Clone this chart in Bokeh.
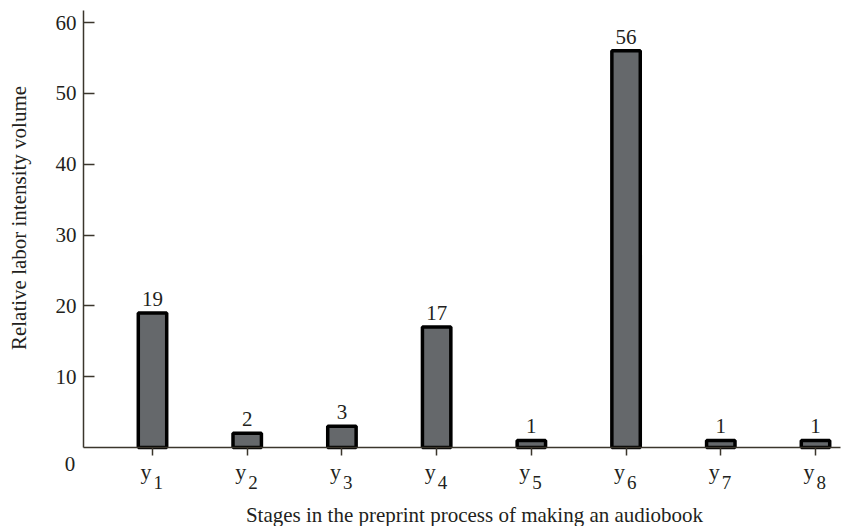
import math
from bokeh.plotting import figure
from bokeh.models import Range1d, FixedTicker, ColumnDataSource, LabelSet, Label
from bokeh.embed import file_html
from bokeh.resources import INLINE

# ---- data ----
stages = [1, 2, 3, 4, 5, 6, 7, 8]
stage_letters = ["y", "y", "y", "y", "y", "y", "y", "y"]
stage_subscripts = ["1", "2", "3", "4", "5", "6", "7", "8"]
values = [19, 2, 3, 17, 1, 56, 1, 1]
y_ticks = [10, 20, 30, 40, 50, 60]
zero_label = "0"
x_title = "Stages in the preprint process of making an audiobook"
y_title = "Relative labor intensity volume"

FONT = "Liberation Serif"
TXT = "#231f20"
AXC = "#3b362c"
W, H = 842, 526

# ---- layout: the frame covers the whole canvas, axes sit at fixed locations ----
sx = (815 - 152) / 7.0          # px per stage
sy = (447 - 22) / 60.0          # px per unit
xr0 = 1 - 152 / sx
xr1 = xr0 + W / sx
yr1 = 447 / sy
yr0 = yr1 - H / sy
x_axis_bounds = (1 - (152 - 83) / sx, 1 + (840 - 152) / sx)
y_axis_bounds = (0, (447 - 10) / sy)


def px_to_x(px):
    return 1 + (px - 152) / sx


def px_to_y(py):
    return (447 - py) / sy


p = figure(width=W, height=H, output_backend="svg", toolbar_location=None,
           x_range=Range1d(xr0, xr1), y_range=Range1d(yr0, yr1),
           min_border_left=0, min_border_right=0, min_border_top=0,
           min_border_bottom=0)
p.xgrid.visible = False
p.ygrid.visible = False
p.outline_line_color = None

src = ColumnDataSource(dict(x=stages, top=values, lab=[str(v) for v in values],
                            ylet=stage_letters, sub=stage_subscripts,
                            zero=[0] * len(stages)))

p.vbar(x="x", top="top", bottom=0, width=0.3, source=src,
       fill_color="#65686b", line_color="black", line_width=3.5)

# value labels
p.add_layout(LabelSet(x="x", y="top", text="lab", source=src, y_offset=7,
                      text_align="center", text_baseline="alphabetic",
                      text_font=FONT, text_font_size="21px", text_color=TXT))

# x axis (at y = 0)
xa = p.xaxis[0]
xa.fixed_location = 0
xa.bounds = x_axis_bounds
xa.ticker = FixedTicker(ticks=stages)
xa.major_label_overrides = {s: "" for s in stages}
xa.major_tick_in = 0
xa.major_tick_out = 8
xa.minor_tick_line_color = None
xa.axis_line_color = AXC
xa.axis_line_width = 1.5
xa.major_tick_line_color = AXC
xa.major_tick_line_width = 1.5

# y axis (at the left end of the x axis)
ya = p.yaxis[0]
ya.fixed_location = x_axis_bounds[0]
ya.bounds = y_axis_bounds
ya.ticker = FixedTicker(ticks=y_ticks)
ya.major_tick_in = 11
ya.major_tick_out = 0
ya.minor_tick_line_color = None
ya.axis_line_color = AXC
ya.axis_line_width = 1.5
ya.major_tick_line_color = AXC
ya.major_tick_line_width = 1.5
ya.major_label_text_font = FONT
ya.major_label_text_font_size = "21px"
ya.major_label_text_color = TXT
ya.major_label_standoff = 7

# category labels: y with subscript
p.add_layout(LabelSet(x="x", y="zero", text="ylet", source=src, x_offset=-1, y_offset=-31,
                      text_align="right", text_baseline="alphabetic",
                      text_font=FONT, text_font_size="22px", text_color=TXT))
p.add_layout(LabelSet(x="x", y="zero", text="sub", source=src, x_offset=1, y_offset=-41,
                      text_align="left", text_baseline="alphabetic",
                      text_font=FONT, text_font_size="19px", text_color=TXT))

# "0" at the origin
p.add_layout(Label(x=x_axis_bounds[0], y=0, text=zero_label, x_offset=-13.5, y_offset=-16.5,
                   text_align="center", text_baseline="middle",
                   text_font=FONT, text_font_size="21px", text_color=TXT))

# axis titles
p.add_layout(Label(x=px_to_x(474), y=px_to_y(514), text=x_title,
                   text_align="center", text_baseline="middle",
                   text_font=FONT, text_font_size="21px", text_color=TXT))
p.add_layout(Label(x=px_to_x(18), y=px_to_y(217.5), text=y_title,
                   angle=math.pi / 2, text_align="center", text_baseline="middle",
                   text_font=FONT, text_font_size="21px", text_color=TXT))

open("out.html", "w").write(file_html(p, INLINE))
